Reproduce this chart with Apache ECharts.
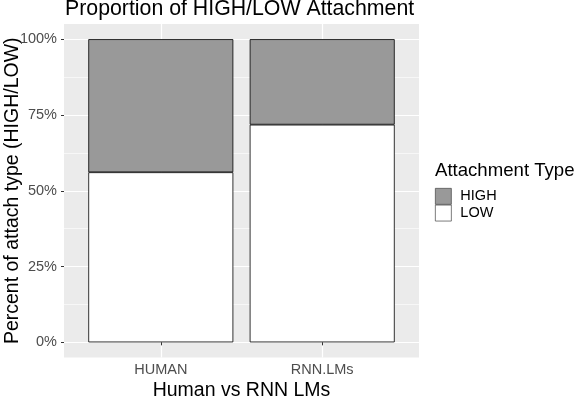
<!DOCTYPE html>
<html><head><meta charset="utf-8">
<script src="https://cdn.jsdelivr.net/npm/echarts@6/dist/echarts.min.js"></script>
<style>html,body{margin:0;padding:0;background:#fff}#c{width:576px;height:396px}</style>
</head><body><div id="c"></div>
<script>
const categories = ['HUMAN', 'RNN.LMs'];
const lowPct = [56.1, 71.8];
const highPct = [43.9, 28.2];
const yTicks = [0, 25, 50, 75, 100];
const yMinor = [12.5, 37.5, 62.5, 87.5];
const legendNames = ['HIGH', 'LOW'];

const FONT = 'Liberation Sans';
const chart = echarts.init(document.getElementById('c'), null, {renderer: 'canvas'});
const xPos = categories.map((c, i) => i + 1);
const gridTop = 24, gridBottom = 38.5;
chart.setOption({
  animation: false,
  textStyle: {fontFamily: FONT},
  title: [
    {text: 'Proportion of HIGH/LOW Attachment', left: 65, top: -1, padding: 0,
     textStyle: {fontFamily: FONT, fontSize: 21.3, fontWeight: 'normal', color: '#000'}},
    {text: 'Attachment Type', left: 435, top: 161, padding: 0,
     textStyle: {fontFamily: FONT, fontSize: 18.6, fontWeight: 'normal', color: '#000'}}
  ],
  legend: {
    orient: 'vertical', left: 435, top: 188, padding: 0, itemWidth: 16, itemHeight: 16, itemGap: 0,
    icon: 'rect', data: legendNames,
    itemStyle: {borderColor: '#444', borderWidth: 0.7},
    textStyle: {fontFamily: FONT, fontSize: 14.5, color: '#000', padding: [0, 0, 0, 4]}
  },
  grid: [
    {left: 64, right: 157, top: gridTop, bottom: gridBottom, show: true, backgroundColor: '#EBEBEB',
     borderWidth: 0, outerBoundsMode: 'none', containLabel: false},
    {left: 80.1, right: 173.1, top: gridTop, bottom: gridBottom, show: false,
     outerBoundsMode: 'none', containLabel: false}
  ],
  xAxis: [{
    gridIndex: 0, type: 'value', min: 0.4, max: 2.6,
    name: 'Human vs RNN LMs', nameLocation: 'middle', nameGap: 23, nameMoveOverlap: false,
    nameTextStyle: {fontFamily: FONT, fontSize: 19.5, color: '#000'},
    axisLine: {show: false},
    axisTick: {show: true, length: 3, customValues: xPos, lineStyle: {color: '#333'}},
    axisLabel: {customValues: xPos, formatter: v => categories[Math.round(v) - 1], margin: 5,
      fontFamily: FONT, fontSize: 14.5, color: '#4D4D4D'},
    splitLine: {show: true, lineStyle: {color: '#fff', width: 1.2}}
  }, {
    gridIndex: 1, type: 'category', data: categories, boundaryGap: true,
    axisLine: {show: false}, axisTick: {show: false}, axisLabel: {show: false}, splitLine: {show: false}
  }],
  yAxis: [{
    gridIndex: 0, type: 'value', min: -5, max: 105,
    name: 'Percent of attach type (HIGH/LOW)', nameLocation: 'middle', nameGap: 41, nameMoveOverlap: false,
    nameTextStyle: {fontFamily: FONT, fontSize: 19.5, color: '#000'},
    axisLine: {show: false},
    axisTick: {show: true, length: 3, customValues: yTicks, lineStyle: {color: '#333'}},
    axisLabel: {customValues: yTicks, formatter: v => v + '%', margin: 7,
      fontFamily: FONT, fontSize: 14.5, color: '#4D4D4D'},
    splitLine: {show: true, lineStyle: {color: '#fff', width: 1.2}}
  }, {
    gridIndex: 0, type: 'value', min: -5, max: 105, position: 'left',
    axisLine: {show: false},
    axisTick: {show: false, customValues: yMinor},
    axisLabel: {show: false, customValues: yMinor},
    splitLine: {show: true, lineStyle: {color: '#fff', width: 0.6}}
  }, {
    gridIndex: 1, type: 'value', min: -5, max: 105,
    axisLine: {show: false}, axisTick: {show: false}, axisLabel: {show: false}, splitLine: {show: false}
  }],
  series: [
    {name: 'LOW', type: 'bar', stack: 'a', barWidth: 145, xAxisIndex: 1, yAxisIndex: 2,
     data: lowPct,
     itemStyle: {color: '#FFFFFF', borderColor: '#000', borderWidth: 0.8}},
    {name: 'HIGH', type: 'bar', stack: 'a', barWidth: 145, xAxisIndex: 1, yAxisIndex: 2,
     data: highPct,
     itemStyle: {color: '#999999', borderColor: '#000', borderWidth: 0.8}}
  ]
});
</script></body></html>
